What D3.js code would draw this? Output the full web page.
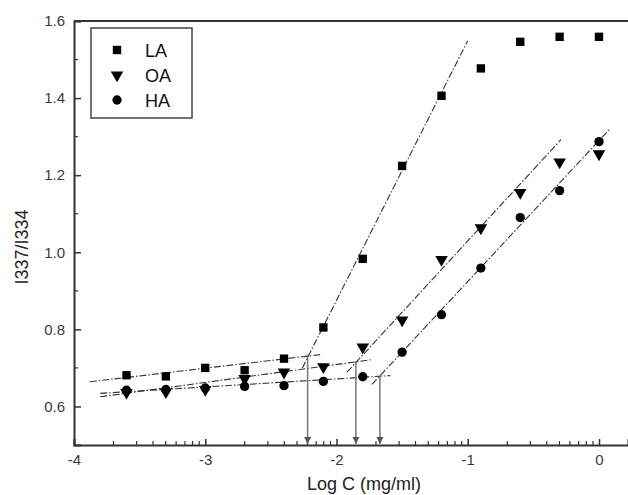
<!DOCTYPE html>
<meta charset="utf-8">
<style>
body { margin: 0; background: #fff; }
svg { font-family: "Liberation Sans", Arial, sans-serif; }
.tick text { fill: #3a3a3a; font-size: 15px; }
.fit { fill: none; stroke: #333; stroke-width: 1.1; stroke-dasharray: 7,2,1.5,2; }
.arrow { stroke: #777; stroke-width: 1.5; }
</style>
<svg width="628" height="495"></svg>
<script src="https://d3js.org/d3.v7.min.js"></script>
<script>
// log concentration (mg/ml)
const logC = [-3.6, -3.3, -3.0, -2.7, -2.4, -2.1, -1.8, -1.5, -1.2, -0.9, -0.6, -0.3, 0];
const LA = [0.681, 0.678, 0.700, 0.694, 0.724, 0.805, 0.983, 1.224, 1.406, 1.477, 1.546, 1.559, 1.559];
const OA = [0.636, 0.638, 0.644, 0.672, 0.689, 0.703, 0.754, 0.824, 0.981, 1.063, 1.155, 1.234, 1.255];
const HA = [0.642, 0.644, 0.648, 0.652, 0.654, 0.665, 0.677, 0.741, 0.838, 0.959, 1.090, 1.160, 1.287];

// fitted lines [x1, y1, x2, y2]
const fitLines = [
  [-3.88, 0.664, -2.11, 0.735],
  [-2.26, 0.700, -1.00, 1.549],
  [-3.80, 0.625, -1.74, 0.721],
  [-1.92, 0.689, -0.29, 1.292],
  [-3.80, 0.634, -1.59, 0.680],
  [-1.73, 0.657, 0.08, 1.319]
];
// cmc arrows [x, y of intersection]
const cmcX = [-2.22, -1.852, -1.669];
const cmcY = [0.735, 0.718, 0.680];

const xTicks = [-4, -3, -2, -1, 0];
const yTicks = [0.6, 0.8, 1.0, 1.2, 1.4, 1.6];

const svg = d3.select("svg");
const x = d3.scaleLinear().domain([-4, 0.221]).range([74, 628]);
const y = d3.scaleLinear().domain([0.5, 1.6]).range([445, 21]);

// log-style minor ticks in each decade
const xMinor = [];
for (let d = -4; d < 0; d++) for (let k = 2; k <= 9; k++) xMinor.push(d + Math.log10(k));
const yMinor = [0.7, 0.9, 1.1, 1.3, 1.5];

const axisColor = "#333";

// x axis
const gx = svg.append("g").attr("transform", "translate(0,445)")
  .call(d3.axisBottom(x).tickValues(xTicks).tickSize(-6).tickPadding(9).tickFormat(d => String(d)));
gx.select(".domain").attr("stroke", axisColor).attr("stroke-width", 2);
gx.selectAll(".tick line").attr("stroke", axisColor).attr("stroke-width", 1.5);
svg.append("g").selectAll("line").data(xMinor).join("line")
  .attr("x1", d => x(d)).attr("x2", d => x(d))
  .attr("y1", 445).attr("y2", 441)
  .attr("stroke", axisColor).attr("stroke-width", 1.2);

// y axis
const gy = svg.append("g").attr("transform", "translate(74,0)")
  .call(d3.axisLeft(y).tickValues(yTicks).tickSize(-7).tickPadding(9).tickFormat(d3.format(".1f")));
gy.select(".domain").attr("stroke", axisColor).attr("stroke-width", 2);
gy.selectAll(".tick line").attr("stroke", axisColor).attr("stroke-width", 1.5);
svg.append("g").selectAll("line").data(yMinor).join("line")
  .attr("x1", 74).attr("x2", 78)
  .attr("y1", d => y(d)).attr("y2", d => y(d))
  .attr("stroke", axisColor).attr("stroke-width", 1.2);

// top frame line
svg.append("line")
  .attr("x1", x(-4)).attr("x2", x(0.221)).attr("y1", y(1.6)).attr("y2", y(1.6))
  .attr("stroke", axisColor).attr("stroke-width", 2);

// axis titles
svg.append("text")
  .attr("x", 364).attr("y", 490).attr("text-anchor", "middle")
  .attr("font-size", 18).attr("fill", "#222").text("Log C (mg/ml)");
svg.append("text")
  .attr("transform", "translate(28,247) rotate(-90)").attr("text-anchor", "middle")
  .attr("font-size", 18).attr("fill", "#222").text("I337/I334");

// fitted lines
svg.append("g").selectAll("line").data(fitLines).join("line")
  .attr("class", "fit")
  .attr("x1", d => x(d[0])).attr("y1", d => y(d[1]))
  .attr("x2", d => x(d[2])).attr("y2", d => y(d[3]));

// arrows
svg.append("defs").append("marker")
  .attr("id", "head").attr("viewBox", "0 0 10 10")
  .attr("refX", 10).attr("refY", 5)
  .attr("markerWidth", 5).attr("markerHeight", 5)
  .attr("orient", "auto")
  .append("path").attr("d", "M0,0L10,5L0,10Z").attr("fill", "#555");
svg.append("g").selectAll("line").data(cmcX).join("line")
  .attr("class", "arrow")
  .attr("x1", d => x(d)).attr("x2", d => x(d))
  .attr("y1", (d, i) => y(cmcY[i])).attr("y2", 444)
  .attr("marker-end", "url(#head)");

// markers
const sq = d3.symbol().type(d3.symbolSquare).size(70);
const tri = d3.symbol().type(d3.symbolTriangle).size(68);
const circ = d3.symbol().type(d3.symbolCircle).size(68);

const series = [
  { name: "LA", vals: LA, sym: sq, rot: 0 },
  { name: "OA", vals: OA, sym: tri, rot: 180 },
  { name: "HA", vals: HA, sym: circ, rot: 0 }
];

series.forEach(s => {
  svg.append("g").selectAll("path").data(s.vals).join("path")
    .attr("d", s.sym)
    .attr("fill", "#000")
    .attr("transform", (d, i) => `translate(${x(logC[i])},${y(d)}) rotate(${s.rot})`);
});

// legend
const lg = svg.append("g");
lg.append("rect").attr("x", 91).attr("y", 28).attr("width", 101).attr("height", 90)
  .attr("fill", "#fff").attr("stroke", "#444").attr("stroke-width", 1.5);
series.forEach((s, i) => {
  const yy = 50 + i * 25;
  lg.append("path").attr("d", s.sym).attr("fill", "#000")
    .attr("transform", `translate(117,${yy}) rotate(${s.rot})`);
  lg.append("text").attr("x", 145).attr("y", yy + 7)
    .attr("font-size", 18).attr("fill", "#111").text(s.name);
});
</script>
